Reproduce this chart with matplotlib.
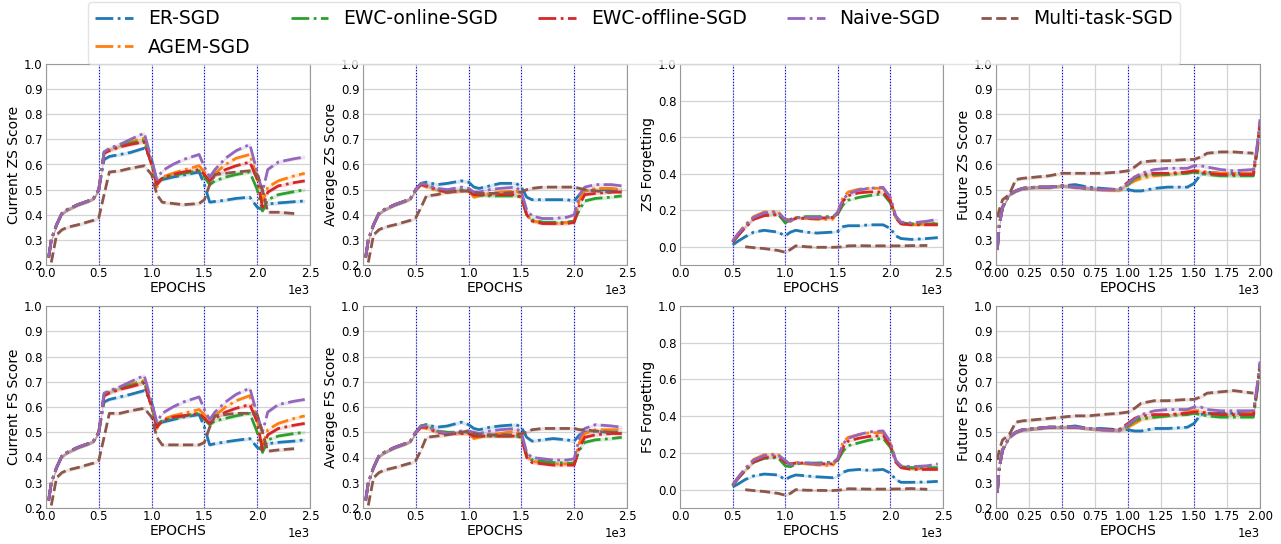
import numpy as np
import matplotlib
matplotlib.use("Agg")
import matplotlib.pyplot as plt

nan = np.nan
labels = ["ER-SGD", "AGEM-SGD", "EWC-online-SGD", "EWC-offline-SGD", "Naive-SGD", "Multi-task-SGD"]

# ---------- x grids (epochs) ----------
x_main = [25, 50, 100, 150, 200, 300, 400, 450, 500, 550, 600, 700, 800, 930, 1000, 1050,
          1100, 1200, 1300, 1450, 1500, 1550, 1600, 1700, 1800, 1930, 2000, 2050, 2100, 2200, 2350, 2450]
x_forget = [500, 550, 620, 700, 800, 930, 1000, 1050, 1100, 1200, 1300, 1450, 1500, 1550, 1600,
            1700, 1800, 1930, 2000, 2050, 2100, 2200, 2350, 2450]
x_future = [10, 25, 50, 100, 150, 200, 300, 400, 500, 600, 700, 800, 930, 1000, 1050, 1100, 1200,
            1300, 1450, 1500, 1550, 1600, 1700, 1800, 1950, 1975, 2000]

early = [0.23, 0.30, 0.36, 0.405, 0.42, 0.44, 0.455, 0.465, 0.50]
early_mt = [nan, 0.21, 0.32, 0.34, 0.35, 0.36, 0.372, 0.378, 0.388]

# ---------- Current ZS Score ----------
cz_er = early + [0.62, 0.632, 0.64, 0.648, 0.665, 0.62, 0.53, 0.54, 0.55, 0.558, 0.57, 0.52, 0.45, 0.453, 0.458, 0.465, 0.47, 0.43, 0.42, 0.443, 0.447, 0.452, 0.455]
cz_agem = early + [0.645, 0.66, 0.675, 0.69, 0.705, 0.60, 0.51, 0.55, 0.565, 0.578, 0.595, 0.57, 0.53, 0.565, 0.60, 0.625, 0.64, 0.55, 0.45, 0.51, 0.535, 0.555, 0.565]
cz_ewcon = early + [0.65, 0.66, 0.675, 0.685, 0.695, 0.60, 0.53, 0.545, 0.555, 0.565, 0.575, 0.55, 0.52, 0.535, 0.55, 0.56, 0.57, 0.50, 0.415, 0.46, 0.48, 0.492, 0.50]
cz_ewcoff = early + [0.645, 0.655, 0.67, 0.68, 0.69, 0.60, 0.52, 0.545, 0.56, 0.57, 0.58, 0.56, 0.535, 0.555, 0.58, 0.595, 0.61, 0.54, 0.43, 0.49, 0.515, 0.528, 0.535]
cz_naive = early + [0.65, 0.665, 0.68, 0.70, 0.725, 0.62, 0.54, 0.575, 0.60, 0.62, 0.64, 0.59, 0.55, 0.58, 0.625, 0.655, 0.68, 0.57, 0.49, 0.58, 0.61, 0.623, 0.63]
cz_mt = early_mt + [0.48, 0.57, 0.575, 0.585, 0.595, 0.56, 0.48, 0.45, 0.445, 0.44, 0.445, 0.46, 0.52, 0.56, 0.565, 0.57, 0.575, 0.56, 0.50, 0.41, 0.41, 0.405, nan]

# ---------- Average ZS Score ----------
az_er = early + [0.525, 0.53, 0.52, 0.525, 0.535, 0.53, 0.51, 0.505, 0.515, 0.525, 0.525, 0.51, 0.47, 0.46, 0.46, 0.46, 0.46, 0.455, 0.48, 0.495, 0.50, 0.50, 0.50]
az_agem = early + [0.52, 0.51, 0.495, 0.49, 0.495, 0.495, 0.47, 0.475, 0.485, 0.49, 0.495, 0.48, 0.40, 0.375, 0.37, 0.365, 0.37, 0.375, 0.46, 0.495, 0.505, 0.505, 0.50]
az_ewcon = early + [0.525, 0.52, 0.50, 0.495, 0.50, 0.495, 0.48, 0.478, 0.475, 0.475, 0.475, 0.47, 0.40, 0.38, 0.37, 0.37, 0.37, 0.375, 0.42, 0.455, 0.465, 0.47, 0.475]
az_ewcoff = early + [0.52, 0.515, 0.50, 0.49, 0.495, 0.495, 0.48, 0.48, 0.48, 0.48, 0.48, 0.47, 0.40, 0.375, 0.365, 0.365, 0.365, 0.37, 0.44, 0.48, 0.485, 0.49, 0.49]
az_naive = early + [0.525, 0.52, 0.505, 0.50, 0.51, 0.505, 0.49, 0.49, 0.50, 0.505, 0.51, 0.49, 0.42, 0.395, 0.385, 0.385, 0.39, 0.40, 0.48, 0.51, 0.52, 0.52, 0.515]
az_mt = early_mt + [0.43, 0.475, 0.48, 0.49, 0.495, 0.495, 0.49, 0.485, 0.485, 0.485, 0.49, 0.49, 0.50, 0.505, 0.51, 0.51, 0.51, 0.51, 0.505, 0.50, 0.495, 0.49, nan]

# ---------- ZS Forgetting ----------
fz_er = [0.01, 0.03, 0.055, 0.08, 0.09, 0.08, 0.06, 0.08, 0.09, 0.08, 0.075, 0.08, 0.085, 0.11, 0.115, 0.115, 0.12, 0.12, 0.10, 0.06, 0.045, 0.04, 0.045, 0.05]
fz_agem = [0.03, 0.07, 0.12, 0.165, 0.19, 0.195, 0.14, 0.14, 0.16, 0.155, 0.15, 0.15, 0.19, 0.27, 0.30, 0.315, 0.32, 0.32, 0.26, 0.16, 0.125, 0.12, 0.125, 0.13]
fz_ewcon = [0.025, 0.06, 0.11, 0.155, 0.175, 0.18, 0.13, 0.15, 0.16, 0.165, 0.165, 0.165, 0.18, 0.23, 0.255, 0.27, 0.28, 0.29, 0.24, 0.16, 0.13, 0.125, 0.125, 0.125]
fz_ewcoff = [0.025, 0.06, 0.105, 0.15, 0.17, 0.175, 0.15, 0.145, 0.155, 0.155, 0.155, 0.16, 0.185, 0.25, 0.28, 0.295, 0.30, 0.30, 0.25, 0.16, 0.125, 0.12, 0.12, 0.12]
fz_naive = [0.03, 0.07, 0.115, 0.16, 0.185, 0.19, 0.15, 0.14, 0.16, 0.16, 0.16, 0.16, 0.19, 0.26, 0.29, 0.31, 0.32, 0.325, 0.27, 0.17, 0.135, 0.13, 0.14, 0.15]
fz_mt = [nan, nan, 0.0, -0.005, -0.01, -0.02, -0.03, -0.015, 0.005, 0.0, -0.003, -0.003, -0.002, 0.0, 0.005, 0.006, 0.005, 0.005, 0.005, 0.005, 0.005, 0.006, 0.007, nan]

# ---------- Future ZS Score ----------
early_fut = [0.26, 0.36, 0.43, 0.48, 0.495, 0.505, 0.51, 0.51, 0.515]
uz_er = early_fut + [0.52, 0.51, 0.505, 0.50, 0.50, 0.495, 0.495, 0.505, 0.51, 0.51, 0.525, 0.56, 0.57, 0.565, 0.565, 0.565, 0.65, 0.77]
uz_agem = early_fut + [0.51, 0.505, 0.50, 0.495, 0.52, 0.535, 0.545, 0.555, 0.56, 0.57, 0.575, 0.575, 0.57, 0.565, 0.565, 0.565, 0.65, 0.77]
uz_ewcon = early_fut + [0.51, 0.505, 0.50, 0.50, 0.52, 0.545, 0.555, 0.56, 0.56, 0.565, 0.57, 0.565, 0.56, 0.555, 0.555, 0.555, 0.64, 0.75]
uz_ewcoff = early_fut + [0.51, 0.505, 0.50, 0.50, 0.53, 0.55, 0.56, 0.565, 0.565, 0.57, 0.575, 0.57, 0.565, 0.56, 0.56, 0.56, 0.65, 0.76]
uz_naive = early_fut + [0.51, 0.505, 0.50, 0.50, 0.525, 0.55, 0.565, 0.58, 0.585, 0.585, 0.595, 0.595, 0.59, 0.58, 0.575, 0.58, 0.66, 0.78]
uz_mt = [0.39, 0.42, 0.46, 0.48, 0.54, 0.545, 0.55, 0.555, 0.565, 0.565, 0.565, 0.565, 0.57, 0.575, 0.59, 0.61, 0.615, 0.615, 0.62, 0.62, 0.63, 0.645, 0.65, 0.65, 0.645, nan, nan]

# ---------- Current FS Score ----------
cf_er = early + [0.62, 0.63, 0.64, 0.65, 0.665, 0.62, 0.53, 0.54, 0.55, 0.56, 0.57, 0.52, 0.45, 0.455, 0.462, 0.468, 0.475, 0.44, 0.43, 0.455, 0.46, 0.465, 0.47]
cf_agem = early + [0.645, 0.66, 0.675, 0.69, 0.705, 0.60, 0.515, 0.55, 0.565, 0.575, 0.59, 0.57, 0.535, 0.565, 0.60, 0.625, 0.645, 0.55, 0.445, 0.51, 0.535, 0.555, 0.565]
cf_ewcon = early + [0.65, 0.66, 0.675, 0.685, 0.70, 0.60, 0.53, 0.545, 0.555, 0.565, 0.575, 0.55, 0.53, 0.545, 0.555, 0.565, 0.575, 0.50, 0.42, 0.47, 0.485, 0.495, 0.50]
cf_ewcoff = early + [0.645, 0.655, 0.67, 0.68, 0.695, 0.60, 0.52, 0.545, 0.56, 0.565, 0.575, 0.555, 0.535, 0.555, 0.58, 0.595, 0.61, 0.54, 0.43, 0.49, 0.515, 0.528, 0.535]
cf_naive = early + [0.655, 0.665, 0.68, 0.70, 0.725, 0.62, 0.54, 0.575, 0.60, 0.62, 0.64, 0.59, 0.55, 0.58, 0.62, 0.65, 0.675, 0.57, 0.50, 0.58, 0.61, 0.623, 0.63]
cf_mt = early_mt + [0.48, 0.575, 0.575, 0.585, 0.595, 0.56, 0.48, 0.45, 0.45, 0.45, 0.45, 0.46, 0.52, 0.565, 0.57, 0.575, 0.575, 0.57, 0.50, 0.425, 0.43, 0.435, nan]

# ---------- Average FS Score ----------
af_er = early + [0.525, 0.53, 0.52, 0.525, 0.54, 0.53, 0.515, 0.51, 0.52, 0.525, 0.53, 0.52, 0.48, 0.465, 0.47, 0.475, 0.47, 0.465, 0.49, 0.50, 0.505, 0.50, 0.50]
af_agem = early + [0.52, 0.515, 0.50, 0.495, 0.495, 0.495, 0.475, 0.48, 0.49, 0.495, 0.505, 0.49, 0.41, 0.385, 0.38, 0.375, 0.375, 0.38, 0.46, 0.495, 0.51, 0.51, 0.51]
af_ewcon = early + [0.525, 0.53, 0.505, 0.50, 0.50, 0.50, 0.485, 0.485, 0.485, 0.485, 0.485, 0.48, 0.41, 0.39, 0.385, 0.38, 0.378, 0.375, 0.43, 0.46, 0.47, 0.475, 0.48]
af_ewcoff = early + [0.52, 0.52, 0.50, 0.495, 0.495, 0.495, 0.485, 0.485, 0.485, 0.485, 0.485, 0.48, 0.40, 0.38, 0.375, 0.37, 0.37, 0.37, 0.44, 0.48, 0.49, 0.495, 0.495]
af_naive = early + [0.525, 0.525, 0.505, 0.495, 0.505, 0.505, 0.50, 0.495, 0.505, 0.51, 0.515, 0.50, 0.42, 0.40, 0.395, 0.39, 0.39, 0.395, 0.48, 0.515, 0.53, 0.525, 0.52]
af_mt = early_mt + [0.43, 0.48, 0.485, 0.49, 0.50, 0.505, 0.495, 0.49, 0.49, 0.49, 0.49, 0.495, 0.50, 0.51, 0.515, 0.515, 0.515, 0.515, 0.51, 0.51, 0.505, 0.50, nan]

# ---------- FS Forgetting ----------
ff_er = [0.015, 0.03, 0.055, 0.075, 0.085, 0.08, 0.055, 0.07, 0.08, 0.075, 0.07, 0.065, 0.075, 0.095, 0.105, 0.11, 0.105, 0.11, 0.09, 0.055, 0.04, 0.04, 0.042, 0.045]
ff_agem = [0.025, 0.065, 0.115, 0.165, 0.19, 0.195, 0.15, 0.14, 0.15, 0.14, 0.135, 0.13, 0.17, 0.26, 0.285, 0.30, 0.31, 0.31, 0.25, 0.16, 0.12, 0.115, 0.115, 0.115]
ff_ewcon = [0.02, 0.06, 0.105, 0.15, 0.17, 0.175, 0.13, 0.125, 0.14, 0.145, 0.145, 0.15, 0.16, 0.21, 0.24, 0.255, 0.27, 0.28, 0.23, 0.16, 0.125, 0.12, 0.12, 0.12]
ff_ewcoff = [0.025, 0.06, 0.105, 0.15, 0.175, 0.18, 0.15, 0.14, 0.145, 0.145, 0.14, 0.14, 0.165, 0.23, 0.265, 0.28, 0.29, 0.295, 0.24, 0.15, 0.12, 0.11, 0.11, 0.11]
ff_naive = [0.025, 0.065, 0.115, 0.16, 0.185, 0.19, 0.16, 0.135, 0.145, 0.145, 0.14, 0.145, 0.17, 0.25, 0.28, 0.30, 0.315, 0.32, 0.26, 0.16, 0.13, 0.125, 0.13, 0.14]
ff_mt = [nan, nan, 0.0, -0.005, -0.01, -0.02, -0.03, -0.02, 0.0, -0.003, -0.004, -0.005, -0.003, 0.0, 0.005, 0.004, 0.003, 0.003, 0.003, 0.004, 0.004, 0.006, 0.002, nan]

# ---------- Future FS Score ----------
early_fut_fs = [0.26, 0.36, 0.43, 0.48, 0.50, 0.51, 0.515, 0.52, 0.52]
uf_er = early_fut_fs + [0.525, 0.515, 0.515, 0.51, 0.51, 0.505, 0.505, 0.515, 0.515, 0.52, 0.535, 0.57, 0.575, 0.575, 0.575, 0.575, 0.66, 0.77]
uf_agem = early_fut_fs + [0.52, 0.515, 0.51, 0.505, 0.52, 0.535, 0.55, 0.56, 0.565, 0.58, 0.585, 0.585, 0.575, 0.57, 0.57, 0.575, 0.66, 0.77]
uf_ewcon = early_fut_fs + [0.52, 0.515, 0.51, 0.51, 0.525, 0.545, 0.555, 0.56, 0.565, 0.57, 0.575, 0.57, 0.565, 0.56, 0.56, 0.56, 0.65, 0.76]
uf_ewcoff = early_fut_fs + [0.52, 0.515, 0.51, 0.51, 0.535, 0.555, 0.565, 0.57, 0.57, 0.575, 0.58, 0.58, 0.575, 0.57, 0.57, 0.57, 0.66, 0.77]
uf_naive = early_fut_fs + [0.52, 0.515, 0.51, 0.505, 0.53, 0.55, 0.57, 0.585, 0.59, 0.59, 0.60, 0.60, 0.59, 0.585, 0.585, 0.585, 0.67, 0.78]
uf_mt = [0.39, 0.43, 0.47, 0.49, 0.54, 0.545, 0.55, 0.555, 0.56, 0.565, 0.565, 0.57, 0.575, 0.58, 0.595, 0.615, 0.625, 0.625, 0.63, 0.63, 0.64, 0.655, 0.66, 0.665, 0.655, nan, nan]

panels = [
    ("Current ZS Score", x_main, [cz_er, cz_agem, cz_ewcon, cz_ewcoff, cz_naive, cz_mt], "score", 2500),
    ("Average ZS Score", x_main, [az_er, az_agem, az_ewcon, az_ewcoff, az_naive, az_mt], "score", 2500),
    ("ZS Forgetting", x_forget, [fz_er, fz_agem, fz_ewcon, fz_ewcoff, fz_naive, fz_mt], "forget", 2500),
    ("Future ZS Score", x_future, [uz_er, uz_agem, uz_ewcon, uz_ewcoff, uz_naive, uz_mt], "score", 2000),
    ("Current FS Score", x_main, [cf_er, cf_agem, cf_ewcon, cf_ewcoff, cf_naive, cf_mt], "score", 2500),
    ("Average FS Score", x_main, [af_er, af_agem, af_ewcon, af_ewcoff, af_naive, af_mt], "score", 2500),
    ("FS Forgetting", x_forget, [ff_er, ff_agem, ff_ewcon, ff_ewcoff, ff_naive, ff_mt], "forget", 2500),
    ("Future FS Score", x_future, [uf_er, uf_agem, uf_ewcon, uf_ewcoff, uf_naive, uf_mt], "score", 2000),
]

colors = ["#1f77b4", "#ff7f0e", "#2ca02c", "#d62728", "#9467bd", "#8c564b"]
styles = ["-.", "-.", "-.", "-.", "-.", "--"]

W, H = 1281, 544
fig = plt.figure(figsize=(W / 100, H / 100), dpi=100)

lefts = [46, 363, 680, 996]
widths = [264, 264, 263, 264]
rows = [(64, 265), (306, 508)]

handles = []
for i, (ylabel, xs, series, kind, xmax) in enumerate(panels):
    r, c = divmod(i, 4)
    top, bot = rows[r]
    ax = fig.add_axes([lefts[c] / W, 1 - bot / H, widths[c] / W, (bot - top) / H])
    ax.set_axisbelow(True)
    ax.grid(True, color="#d3d3d3", lw=0.9)
    x = np.array(xs, dtype=float)
    for k, ys in enumerate(series):
        y = np.array(ys, dtype=float)
        ax.fill_between(x, y - 0.007, y + 0.007, color=colors[k], alpha=0.18, lw=0)
        ln, = ax.plot(x, y, ls=styles[k], color=colors[k], lw=2.0, label=labels[k])
        if i == 0:
            handles.append(ln)
    bounds = [500, 1000, 1500, 2000, 2500] if xmax == 2500 else [500, 1000, 1500, 2000]
    for b in bounds:
        ax.axvline(b, color="blue", ls=":", lw=0.8, zorder=1)
    ax.set_xlim(0, xmax)
    if xmax == 2500:
        ax.set_xticks(np.arange(0, 2501, 500))
    else:
        ax.set_xticks(np.arange(0, 2001, 250))
    if kind == "score":
        ax.set_ylim(0.2, 1.0)
        ax.set_yticks(np.arange(0.2, 1.001, 0.1))
    else:
        ax.set_ylim(-0.1, 1.0)
        ax.set_yticks(np.arange(0.0, 1.001, 0.2))
    ax.ticklabel_format(axis="x", style="sci", scilimits=(0, 0))
    ax.tick_params(labelsize=8.5, length=0, pad=2.5, color="#888888")
    ax.tick_params(axis="x", pad=1.5)
    ax.xaxis.get_offset_text().set_fontsize(8.5)
    ax.set_xlabel("EPOCHS", fontsize=10, labelpad=0.5)
    ax.set_ylabel(ylabel, fontsize=10, labelpad=2)
    for s in ax.spines.values():
        s.set_color("#999999")
        s.set_linewidth(0.8)

fig.legend(handles, labels, loc="upper center", bbox_to_anchor=(0.495, 1.0), ncol=5,
           fontsize=13.5, handlelength=2.0, handletextpad=0.8, columnspacing=2.15,
           borderaxespad=0.1, frameon=True, edgecolor="#dddddd")

fig.savefig("out.png", dpi=100)
